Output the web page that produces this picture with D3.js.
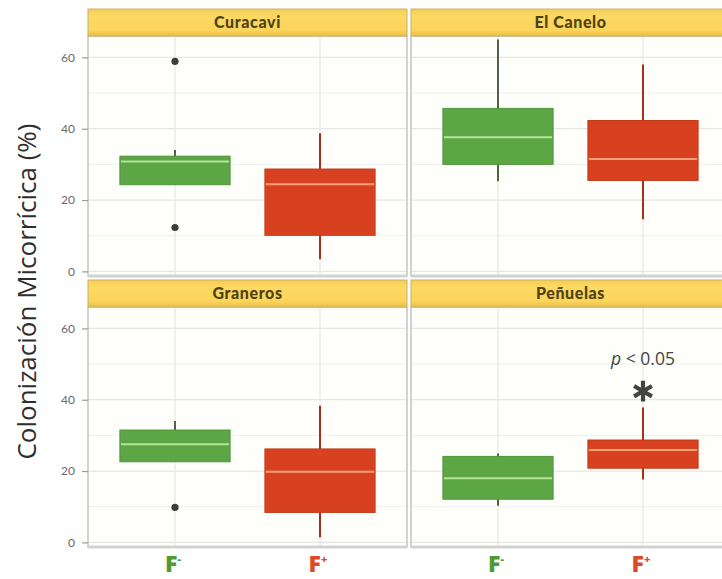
<!DOCTYPE html>
<html>
<head>
<meta charset="utf-8">
<script src="https://cdn.jsdelivr.net/npm/d3@7"></script>
<style>
  body { margin: 0; background: #ffffff; }
  svg { display: block; }
</style>
</head>
<body>
<div id="chart"></div>
<script>
// facet order: top-left, top-right, bottom-left, bottom-right
const sites = ["Curacavi", "El Canelo", "Graneros", "Peñuelas"];
const groups = ["F-", "F+"];

// box statistics per site, [F-, F+]
const whiskerLow  = [[24.3, 3.4],  [25.3, 14.6], [22.6, 1.4],  [10.3, 17.6]];
const q1          = [[24.3, 10.1], [30.0, 25.5], [22.6, 8.4],  [12.1, 20.8]];
const medians     = [[30.8, 24.4], [37.6, 31.5], [27.5, 19.8], [18.0, 25.9]];
const q3          = [[32.3, 28.7], [45.7, 42.3], [31.5, 26.2], [24.1, 28.7]];
const whiskerHigh = [[34.0, 38.7], [65.0, 58.0], [34.0, 38.3], [24.9, 37.8]];
const outliers    = [[[58.9, 12.3], []], [[], []], [[9.8], []], [[], []]];

const yTicks = [0, 20, 40, 60];
const yMinor = [10, 30, 50];

const annotSite = "Peñuelas";
const annotGroup = "F+";
const annotText = "p < 0.05";
const annotTextY = 49.6;
const annotStarY = 42.4;

const width = 722, height = 579;
const svg = d3.select("#chart").append("svg")
    .attr("width", width)
    .attr("height", height);

const colLeft = [88, 411];
const panelW = 319;
const rowTop = [36, 307];
const panelH = 240;
const stripH = 27;

const fillColor = { "F-": "#5ca645", "F+": "#d8411f" };
const strokeColor = { "F-": "#4f953a", "F+": "#c23a1c" };
const medianColor = { "F-": "#b5e39c", "F+": "#f7a07e" };
const whiskerColor = { "F-": "#4f6345", "F+": "#a8301a" };
const labelColor = { "F-": "#4e9a33", "F+": "#dc4a2a" };

const defs = svg.append("defs");
const grad = defs.append("linearGradient")
    .attr("id", "stripGrad")
    .attr("x1", 0).attr("y1", 0).attr("x2", 0).attr("y2", 1);
grad.append("stop").attr("offset", "0%").attr("stop-color", "#f6cd55");
grad.append("stop").attr("offset", "25%").attr("stop-color", "#fcd963");
grad.append("stop").attr("offset", "80%").attr("stop-color", "#fbd45b");
grad.append("stop").attr("offset", "100%").attr("stop-color", "#e9bd45");

defs.append("clipPath").attr("id", "pageClip")
    .append("rect").attr("x", 0).attr("y", 0).attr("width", width).attr("height", height);

const root = svg.append("g").attr("clip-path", "url(#pageClip)");

sites.forEach((site, i) => {
    const col = i % 2, row = Math.floor(i / 2);
    const x0 = colLeft[col], y0 = rowTop[row];

    const x = d3.scaleBand()
        .domain(groups)
        .range([x0, x0 + panelW])
        .paddingOuter(0.4)
        .paddingInner(0.6);
    const cx = g => x(g) + x.bandwidth() / 2;
    const step = x.step();
    const boxW = step * 0.76;

    const y = d3.scaleLinear()
        .domain([-1.3, 66])
        .range([y0 + panelH, y0]);

    const panel = root.append("g").attr("class", "panel");

    // background
    panel.append("rect")
        .attr("x", x0).attr("y", y0)
        .attr("width", panelW).attr("height", panelH)
        .attr("fill", "#fefefb");

    // grid
    panel.selectAll(".minor")
        .data(yMinor)
        .enter()
        .append("line")
        .attr("x1", x0).attr("x2", x0 + panelW)
        .attr("y1", d => y(d)).attr("y2", d => y(d))
        .attr("stroke", "#f0f0ee").attr("stroke-width", 1);
    panel.selectAll(".major")
        .data(yTicks)
        .enter()
        .append("line")
        .attr("x1", x0).attr("x2", x0 + panelW)
        .attr("y1", d => y(d)).attr("y2", d => y(d))
        .attr("stroke", "#e6e6e4").attr("stroke-width", 1.2);
    panel.selectAll(".vgrid")
        .data(groups)
        .enter()
        .append("line")
        .attr("x1", d => cx(d)).attr("x2", d => cx(d))
        .attr("y1", y0).attr("y2", y0 + panelH)
        .attr("stroke", "#e6e6e4").attr("stroke-width", 1.2);

    // boxes
    groups.forEach((g, j) => {
        const c = cx(g);
        panel.append("line")
            .attr("x1", c).attr("x2", c)
            .attr("y1", y(whiskerLow[i][j])).attr("y2", y(whiskerHigh[i][j]))
            .attr("stroke", whiskerColor[g]).attr("stroke-width", 2);
        panel.append("rect")
            .attr("x", c - boxW / 2)
            .attr("y", y(q3[i][j]))
            .attr("width", boxW)
            .attr("height", y(q1[i][j]) - y(q3[i][j]))
            .attr("fill", fillColor[g])
            .attr("stroke", strokeColor[g])
            .attr("stroke-width", 1);
        panel.append("line")
            .attr("x1", c - boxW / 2 + 1).attr("x2", c + boxW / 2 - 1)
            .attr("y1", y(medians[i][j])).attr("y2", y(medians[i][j]))
            .attr("stroke", medianColor[g]).attr("stroke-width", 2);
        panel.selectAll(".out" + j)
            .data(outliers[i][j])
            .enter()
            .append("circle")
            .attr("cx", c)
            .attr("cy", d => y(d))
            .attr("r", 3.6)
            .attr("fill", "#3d3d3d");
    });

    // annotation
    if (site === annotSite) {
        const c = cx(annotGroup);
        panel.append("text")
            .attr("x", c)
            .attr("y", y(annotTextY))
            .attr("text-anchor", "middle")
            .style("font-family", "'Open Sans', sans-serif")
            .style("font-size", "17.5px")
            .attr("fill", "#444")
            .call(t => {
                t.append("tspan").style("font-style", "italic").text("p");
                t.append("tspan").text(annotText.slice(1));
            });
        panel.append("path")
            .attr("d", d3.symbol().type(d3.symbolAsterisk).size(300)())
            .attr("transform", `translate(${c},${y(annotStarY)})`)
            .attr("fill", "none")
            .attr("stroke", "#444")
            .attr("stroke-width", 4.2);
    }

    // panel border
    panel.append("rect")
        .attr("x", x0).attr("y", y0)
        .attr("width", panelW).attr("height", panelH)
        .attr("fill", "none")
        .attr("stroke", "#c4c4c4")
        .attr("stroke-width", 1.5);
    // bottom shading line
    panel.append("line")
        .attr("x1", x0).attr("x2", x0 + panelW)
        .attr("y1", y0 + panelH).attr("y2", y0 + panelH)
        .attr("stroke", "#d2d2d2").attr("stroke-width", 3);

    // strip
    panel.append("rect")
        .attr("x", x0).attr("y", y0 - stripH)
        .attr("width", panelW).attr("height", stripH)
        .attr("fill", "url(#stripGrad)")
        .attr("stroke", "#c9b26a")
        .attr("stroke-width", 1);
    panel.append("text")
        .attr("x", x0 + panelW / 2)
        .attr("y", y0 - stripH / 2 + 5.5)
        .attr("text-anchor", "middle")
        .style("font-family", "Lato, sans-serif")
        .style("font-weight", "900")
        .style("font-size", "16px")
        .style("letter-spacing", "0.6px")
        .attr("fill", "#4f4213")
        .text(site);

    // y axis on the left column
    if (col === 0) {
        const ax = root.append("g")
            .attr("transform", `translate(${x0},0)`)
            .call(d3.axisLeft(y).tickValues(yTicks).tickSize(6).tickPadding(7));
        ax.select(".domain").remove();
        ax.selectAll(".tick line").attr("stroke", "#9a9a9a").attr("stroke-width", 1.2);
        ax.selectAll(".tick text")
            .attr("fill", "#6a6a6a")
            .style("font-family", "Lato, sans-serif")
            .style("font-size", "12px");
    }

    // x labels on the bottom row
    if (row === 1) {
        groups.forEach(g => {
            const t = root.append("text")
                .attr("x", cx(g) - 2)
                .attr("y", y0 + panelH + 25)
                .attr("text-anchor", "middle")
                .style("font-family", "'Open Sans', sans-serif")
                .style("font-weight", "800")
                .style("font-size", "23px")
                .attr("fill", labelColor[g]);
            t.append("tspan").text("F");
            t.append("tspan")
                .attr("dy", -9)
                .style("font-size", "11px")
                .text(g === "F-" ? "-" : "+");
        });
    }
});

// y-axis title
svg.append("text")
    .attr("transform", `translate(36,${(rowTop[0] + rowTop[1] + panelH) / 2}) rotate(-90)`)
    .attr("text-anchor", "middle")
    .style("font-family", "'Open Sans', sans-serif")
    .style("font-weight", "500")
    .style("font-size", "26px")
    .attr("fill", "#2e2e2e")
    .text("Colonización Micorrícica (%)");
</script>
</body>
</html>
